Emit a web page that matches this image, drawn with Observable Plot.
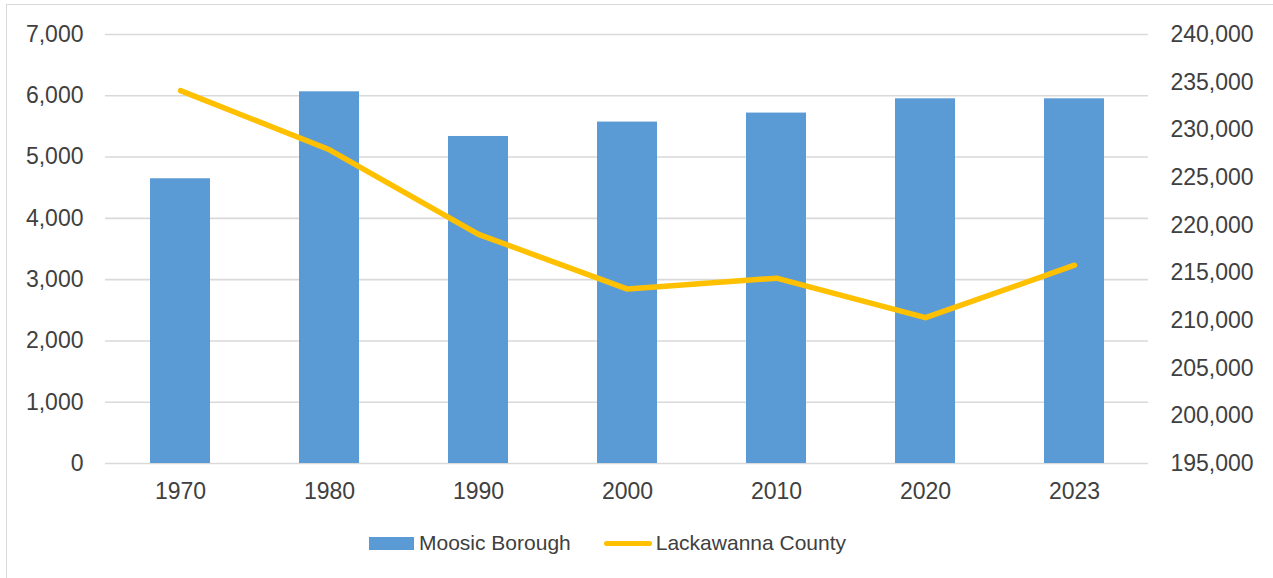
<!DOCTYPE html>
<html>
<head>
<meta charset="utf-8">
<script src="https://cdn.jsdelivr.net/npm/d3@7"></script>
<script src="https://cdn.jsdelivr.net/npm/@observablehq/plot@0.6"></script>
<style>
  html, body { margin: 0; padding: 0; background: #fff; }
  body { width: 1273px; height: 578px; position: relative; overflow: hidden;
         font-family: "Liberation Sans", Arial, sans-serif; color: #404040; }
  #frame { position: absolute; left: 6px; top: 4px; width: 1290px; height: 600px;
           border: 1.5px solid #d9d9d9; box-sizing: border-box; }
  #chart { position: absolute; left: 0; top: 0; }
  #legend { position: absolute; left: 369px; top: 531px; display: flex; align-items: center;
            font-size: 21px; color: #404040; white-space: nowrap; }
  .sw-bar { width: 45px; height: 13px; background: #5b9bd5; margin-right: 5px; }
  .sw-line { width: 48px; height: 5px; border-radius: 3px; background: #ffc000; margin-right: 4px; margin-left: 33px; }
</style>
</head>
<body>
<div id="frame"></div>
<div id="chart"></div>
<div id="legend">
  <div class="sw-bar"></div><span>Moosic Borough</span>
  <div class="sw-line"></div><span>Lackawanna County</span>
</div>
<script>
// Population by census year
const years = ["1970", "1980", "1990", "2000", "2010", "2020", "2023"];
const moosic = [4646, 6065, 5336, 5571, 5718, 5951, 5951];
const lackawanna = [234107, 227908, 219039, 213295, 214437, 210300, 215800];

// Axis ticks
const leftTicks = [0, 1000, 2000, 3000, 4000, 5000, 6000, 7000];
const rightTicks = [195000, 200000, 205000, 210000, 215000, 220000, 225000, 230000, 235000, 240000];

// Secondary axis domain, mapped linearly onto the primary y domain
const leftMax = 7000;
const rightMin = 195000, rightMax = 240000;
const toLeft = (v) => (v - rightMin) / (rightMax - rightMin) * leftMax;
const fromLeft = (v) => rightMin + v / leftMax * (rightMax - rightMin);

const fmt = d3.format(",");
const barData = years.map((year, i) => ({year, value: moosic[i]}));
const lineData = years.map((year, i) => ({year, value: lackawanna[i]}));

const chart = Plot.plot({
  width: 1273,
  height: 510,
  marginTop: 34,
  marginBottom: 47,
  marginLeft: 105,
  marginRight: 125,
  style: {fontFamily: "Liberation Sans, Arial, sans-serif", fontSize: "23px", color: "#404040", background: "transparent"},
  x: {type: "band", domain: years, paddingInner: 0.6, paddingOuter: 0.3},
  y: {domain: [0, leftMax]},
  marks: [
    Plot.ruleY(leftTicks, {stroke: "#d9d9d9", strokeWidth: 1.6}),
    Plot.barY(barData, {x: "year", y: "value", fill: "#5b9bd5"}),
    Plot.line(lineData, {x: "year", y: (d) => toLeft(d.value), stroke: "#ffc000", strokeWidth: 5.5,
      strokeLinecap: "round", strokeLinejoin: "round"}),
    Plot.axisX({tickSize: 0, tickPadding: 19, label: null, fill: "#404040"}),
    Plot.axisY({anchor: "left", ticks: leftTicks, tickSize: 0, tickPadding: 22, label: null,
      tickFormat: fmt, fill: "#404040"}),
    Plot.axisY({anchor: "right", ticks: rightTicks.map(toLeft), tickSize: 0, tickPadding: 22, label: null,
      tickFormat: (d) => fmt(Math.round(fromLeft(d))), fill: "#404040"})
  ]
});
document.getElementById("chart").append(chart);
</script>
</body>
</html>
